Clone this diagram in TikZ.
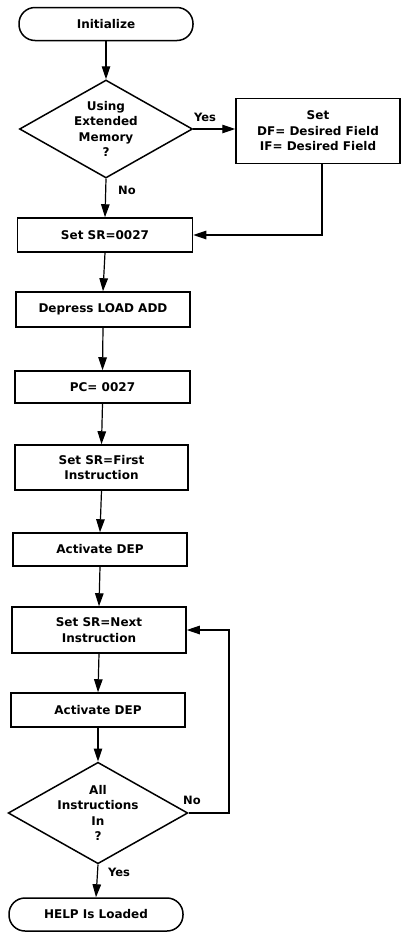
\documentclass[tikz,border=0pt]{standalone}
\usepackage{fontspec}
\setmainfont{DejaVu Sans}
\usetikzlibrary{shapes.geometric,arrows.meta}
\begin{document}
\begin{tikzpicture}[x=1pt,y=-1pt,
  every node/.style={font=\fontsize{12}{15.5}\selectfont\bfseries, align=center, inner sep=0pt},
  box/.style={draw, line width=1.5pt, rectangle, minimum height=#1},
  box/.default=34pt,
  term/.style={draw, line width=1.5pt, rectangle, rounded corners=16pt, minimum width=174pt, minimum height=33pt},
  dec/.style={draw, line width=1.5pt, diamond, aspect=1.77, minimum width=173pt, minimum height=98pt},
  lbl/.style={font=\fontsize{11.5}{13}\selectfont\bfseries},
  arr/.style={line width=1.2pt, -{Triangle[length=13pt,width=8.5pt]}},
  ln/.style={line width=1.2pt}]
\useasboundingbox (0,0) rectangle (402,932);
\node[term] (init) at (106,24) {Initialize};
\node[dec] (d1) at (106,129) {Using\\Extended\\Memory\\?};
\node[box=65pt, minimum width=164pt] (setdf) at (318,131) {Set\\DF= Desired Field\\IF= Desired Field};
\node[box=34pt, minimum width=175pt] (sr27) at (105,235) {Set SR=0027};
\node[box=35pt, minimum width=174pt] (load) at (103,309.5) {Depress LOAD ADD};
\node[box=32pt, minimum width=175pt] (pc) at (102.5,387) {PC= 0027};
\node[box=45pt, minimum width=173pt] (first) at (101.5,467.5) {Set SR=First\\Instruction};
\node[box=33pt, minimum width=174pt] (dep1) at (100,549.5) {Activate DEP};
\node[box=46pt, minimum width=174pt] (next) at (99,630) {Set SR=Next\\Instruction};
\node[box=34pt, minimum width=174pt] (dep2) at (98,710) {Activate DEP};
\node[dec, minimum width=174pt, minimum height=99pt] (d2) at (98,813) {All\\Instructions\\In\\?};
\node[term] (help) at (96,914.5) {HELP Is Loaded};
\node[lbl] (yes1) at (205,117) {Yes};
\node[lbl] (no1) at (127,190) {No};
\node[lbl] (no2) at (192,800) {No};
\node[lbl] (yes2) at (119,872) {Yes};
\coordinate (c1) at (322,236);
\coordinate (c2) at (229,631);
\draw[arr] (init.south) -- (d1.north);
\draw[arr] (d1.east) -- (setdf.west |- d1.east);
\draw[arr] (d1.south) -- (sr27.north);
\draw[arr] (setdf.south -| c1) |- (sr27.east);
\draw[arr] (sr27.south) -- (load.north);
\draw[arr] (load.south) -- (pc.north);
\draw[arr] (pc.south) -- (first.north);
\draw[arr] (first.south) -- (dep1.north);
\draw[arr] (dep1.south) -- (next.north);
\draw[arr] (next.south) -- (dep2.north);
\draw[arr] (dep2.south) -- (d2.north);
\draw[arr] (d2.east) -- (d2.east -| c2) |- (next.east);
\draw[arr] (d2.south) -- (help.north);
\end{tikzpicture}
\end{document}
